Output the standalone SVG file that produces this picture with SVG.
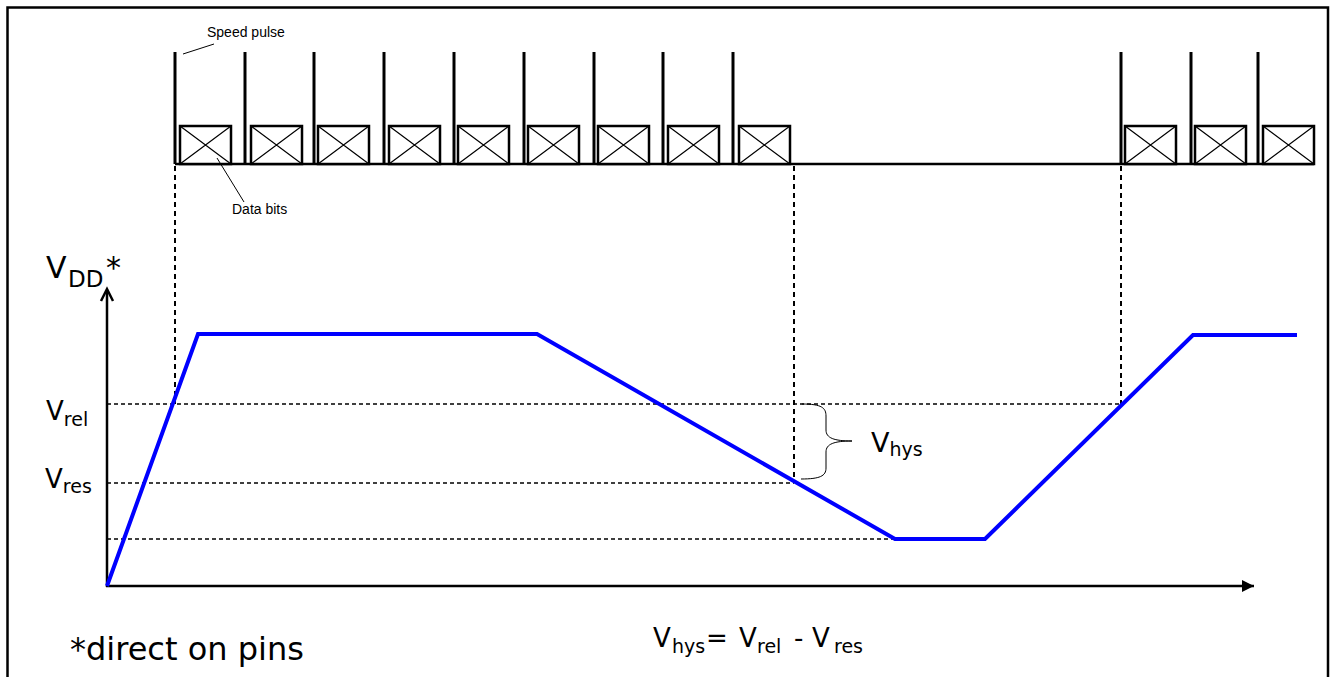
<svg xmlns="http://www.w3.org/2000/svg" width="1332" height="677" viewBox="0 0 1332 677">
<defs>
<style>
.frame{fill:none;stroke:#000;stroke-width:2.5}
.pulse{stroke:#000;stroke-width:3;fill:none}
.base{stroke:#000;stroke-width:2.5;fill:none}
.box{fill:#fff;stroke:#000;stroke-width:2.5}
.x{stroke:#000;stroke-width:1.2;fill:none}
.dash{stroke:#000;stroke-width:1.3;stroke-dasharray:4,3;fill:none}
.vdash{stroke:#000;stroke-width:2;stroke-dasharray:5,4;fill:none}
.axis{stroke:#000;stroke-width:2.5;fill:none}
.sig{stroke:#0000ff;stroke-width:4;fill:none;stroke-linejoin:miter}
.lead{stroke:#000;stroke-width:1;fill:none}
.small{font-family:"Liberation Sans",Arial,sans-serif;font-size:14px;fill:#000}
.lbl{font-family:"DejaVu Sans",Verdana,sans-serif;fill:#000}
</style>
<marker id="tri" viewBox="0 0 10 10" refX="10" refY="5" markerWidth="12" markerHeight="12" markerUnits="userSpaceOnUse" orient="auto">
<path d="M0,0 L10,5 L0,10 z" fill="#000"/>
</marker>
<g id="bit">
<rect class="box" x="0" y="0" width="51" height="38"/>
<path class="x" d="M0,0 L51,38 M51,0 L0,38"/>
</g>
</defs>
<rect width="1332" height="677" fill="#fff"/>
<path class="frame" d="M7.5,690 L7.5,7.5 L1328,7.5 L1328,690"/>

<g id="pulse-train">
<line class="base" x1="175" y1="164" x2="1314" y2="164"/>
<g class="pulse">
<line x1="175" y1="52" x2="175" y2="164"/>
<line x1="245" y1="52" x2="245" y2="164"/>
<line x1="314" y1="52" x2="314" y2="164"/>
<line x1="384" y1="52" x2="384" y2="164"/>
<line x1="454" y1="52" x2="454" y2="164"/>
<line x1="524" y1="52" x2="524" y2="164"/>
<line x1="594" y1="52" x2="594" y2="164"/>
<line x1="663" y1="52" x2="663" y2="164"/>
<line x1="733" y1="52" x2="733" y2="164"/>
<line x1="1121" y1="52" x2="1121" y2="164"/>
<line x1="1191" y1="52" x2="1191" y2="164"/>
<line x1="1258" y1="52" x2="1258" y2="164"/>
</g>
<use href="#bit" x="180" y="126"/>
<use href="#bit" x="251" y="126"/>
<use href="#bit" x="318" y="126"/>
<use href="#bit" x="389" y="126"/>
<use href="#bit" x="458" y="126"/>
<use href="#bit" x="528" y="126"/>
<use href="#bit" x="598" y="126"/>
<use href="#bit" x="668" y="126"/>
<use href="#bit" x="739" y="126"/>
<use href="#bit" x="1125" y="126"/>
<use href="#bit" x="1195" y="126"/>
<use href="#bit" x="1263" y="126"/>
</g>

<g id="label-speed-pulse">
<line class="lead" x1="183" y1="54" x2="214" y2="44"/>
<text class="small" x="207" y="37">Speed pulse</text>
</g>
<g id="label-data-bits">
<line class="lead" x1="217" y1="158" x2="244" y2="202"/>
<text class="small" x="232" y="214">Data bits</text>
</g>

<g id="connectors">
<line class="vdash" x1="175" y1="166" x2="175" y2="404"/>
<line class="vdash" x1="794" y1="166" x2="794" y2="483"/>
<line class="vdash" x1="1121" y1="166" x2="1121" y2="404"/>
<line class="dash" x1="107" y1="404" x2="1121" y2="404"/>
<line class="dash" x1="107" y1="483" x2="794" y2="483"/>
<line class="dash" x1="107" y1="539" x2="915" y2="539"/>
</g>

<g id="axes">
<line class="axis" x1="107" y1="587" x2="107" y2="290"/>
<path class="axis" d="M101,301 L107,289 L113,301" stroke-width="2"/>
<line class="axis" x1="106" y1="586" x2="1254" y2="586" marker-end="url(#tri)"/>
</g>

<g id="signal">
<polyline class="sig" points="107,586 198,334 537,334 895,539 985,539 1193,335 1297,335"/>
</g>

<g id="brace">
<path class="lead" stroke-width="1.5" d="M802,404 C822,404 826,408 826,416 L826,430 C826,438 834,441 852,441 C834,441 826,444 826,452 L826,468 C826,476 820,479 801,479"/>
</g>

<g id="label-vdd">
<text class="lbl" y="278" font-size="30"><tspan x="46">V</tspan><tspan x="68" font-size="23" dy="9">DD</tspan><tspan x="106" font-size="30" dy="-9">*</tspan></text>
</g>
<g id="label-vrel">
<text class="lbl" x="46" y="420" font-size="26">V<tspan font-size="19" dy="6">rel</tspan></text>
</g>
<g id="label-vres">
<text class="lbl" x="45" y="488" font-size="26">V<tspan font-size="19" dy="5">res</tspan></text>
</g>
<g id="label-vhys">
<text class="lbl" x="871" y="452" font-size="27">V<tspan font-size="19" dy="4">hys</tspan></text>
</g>
<g id="formula">
<text class="lbl" y="647" font-size="26"><tspan x="653">V</tspan><tspan x="672" font-size="19" dy="6">hys</tspan><tspan x="706" dy="-6">=</tspan><tspan x="739">V</tspan><tspan x="757" font-size="19" dy="6">rel</tspan><tspan x="794" dy="-6">-</tspan><tspan x="812">V</tspan><tspan x="834" font-size="19" dy="6">res</tspan></text>
</g>
<g id="note">
<text class="lbl" x="70" y="660" font-size="32">*direct on pins</text>
</g>
</svg>
